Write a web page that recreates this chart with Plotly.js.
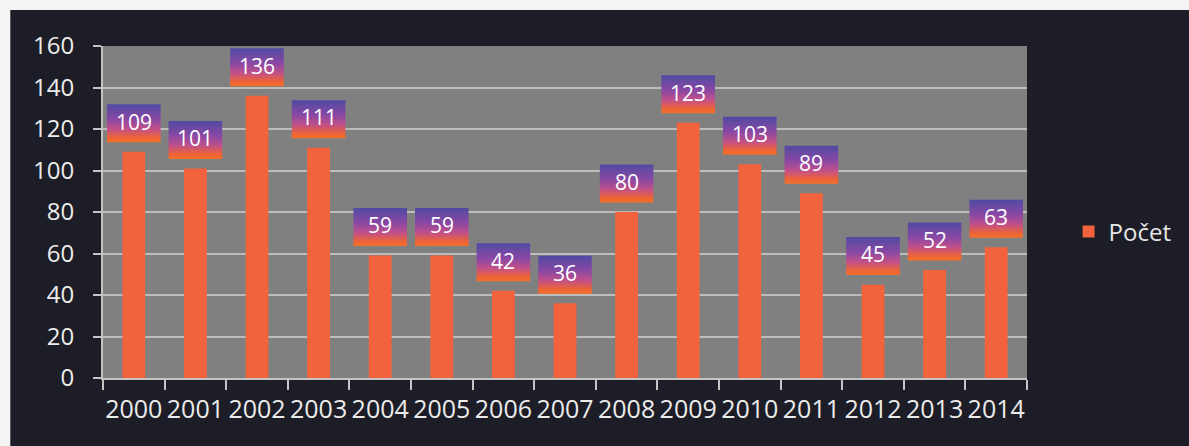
<!DOCTYPE html>
<html>
<head>
<meta charset="utf-8">
<script src="https://cdn.plot.ly/plotly-3.0.1.min.js"></script>
<style>html,body{margin:0;padding:0;background:#1c1d26;}#chart{width:1189px;height:446px;}</style>
</head>
<body>
<div id="chart"></div>
<script>
const years = ["2000","2001","2002","2003","2004","2005","2006","2007","2008","2009","2010","2011","2012","2013","2014"];
const counts = [109,101,136,111,59,59,42,36,80,123,103,89,45,52,63];
const seriesName = "Počet";

const idx = years.map((_, i) => i);
const BOX_GAP = 4.6, BOX_H = 18.3, BOX_HW = 0.435;

const traces = [{
  type: 'bar', x: idx, y: counts, name: seriesName,
  marker: {color: '#f2633d'},
  hoverinfo: 'x+y'
}];

counts.forEach((v, i) => {
  const y0 = v + BOX_GAP, y1 = v + BOX_GAP + BOX_H;
  traces.push({
    type: 'scatter', mode: 'lines', showlegend: false, hoverinfo: 'skip',
    x: [i - BOX_HW, i + BOX_HW, i + BOX_HW, i - BOX_HW, i - BOX_HW],
    y: [y0, y0, y1, y1, y0],
    line: {width: 0, color: 'rgba(0,0,0,0)'},
    fill: 'toself',
    fillgradient: {type: 'vertical', colorscale: [
      [0, '#f5702a'], [0.12, '#ee6436'], [0.35, '#c0508a'], [0.6, '#8a48a4'], [1, '#504aa2']
    ]}
  });
});

const annotations = counts.map((v, i) => ({
  x: i, y: v + BOX_GAP + BOX_H / 2 + 0.8, xref: 'x', yref: 'y',
  text: String(v), showarrow: false,
  font: {family: 'Open Sans', size: 21, color: '#ffffff'}
}));

const layout = {
  width: 1189, height: 446,
  margin: {l: 103, r: 159, t: 46, b: 68},
  paper_bgcolor: '#1c1d26',
  plot_bgcolor: '#808080',
  bargap: 0.63,
  showlegend: true,
  legend: {x: 1.045, y: 0.44, xanchor: 'left', yanchor: 'middle',
    font: {family: 'Open Sans', size: 24, color: '#e6e6e6'}, bgcolor: 'rgba(0,0,0,0)'},
  xaxis: {
    type: 'linear', range: [-0.5, 14.5], tickmode: 'array', tickvals: idx, ticktext: years,
    ticks: '', showgrid: false, zeroline: false,
    showline: true, linecolor: '#c4c4c4', linewidth: 2,
    tickfont: {family: 'Open Sans', size: 25, color: '#ececec'},
    ticklabelstandoff: 8,
    minor: {tickmode: 'linear', tick0: -0.5, dtick: 1, ticks: 'outside', ticklen: 10, tickwidth: 2, tickcolor: '#c4c4c4', showgrid: false}
  },
  yaxis: {
    range: [0, 160], dtick: 20, ticks: 'outside', ticklen: 8, tickwidth: 2, tickcolor: '#c4c4c4',
    showline: true, linecolor: '#c4c4c4', linewidth: 2,
    gridcolor: '#bdbdbd', gridwidth: 2, zeroline: false,
    tickfont: {family: 'Open Sans', size: 24, color: '#ececec'},
    ticklabelstandoff: 14
  },
  shapes: [
    {type: 'rect', xref: 'paper', yref: 'paper', layer: 'below',
     x0: -103 / 927 - 0.01, x1: (1189 - 103) / 927 + 0.01, y0: (378 - 10) / 332, y1: 378 / 332 + 0.01,
     fillcolor: '#f4f4f4', line: {width: 0}},
    {type: 'rect', xref: 'paper', yref: 'paper', layer: 'below',
     x0: -103 / 927 - 0.01, x1: (10 - 103) / 927, y0: -68 / 332 - 0.01, y1: 378 / 332 + 0.01,
     fillcolor: '#f4f4f4', line: {width: 0}}
  ],
  annotations: annotations
};

Plotly.newPlot('chart', traces, layout, {displayModeBar: false});
</script>
</body>
</html>
